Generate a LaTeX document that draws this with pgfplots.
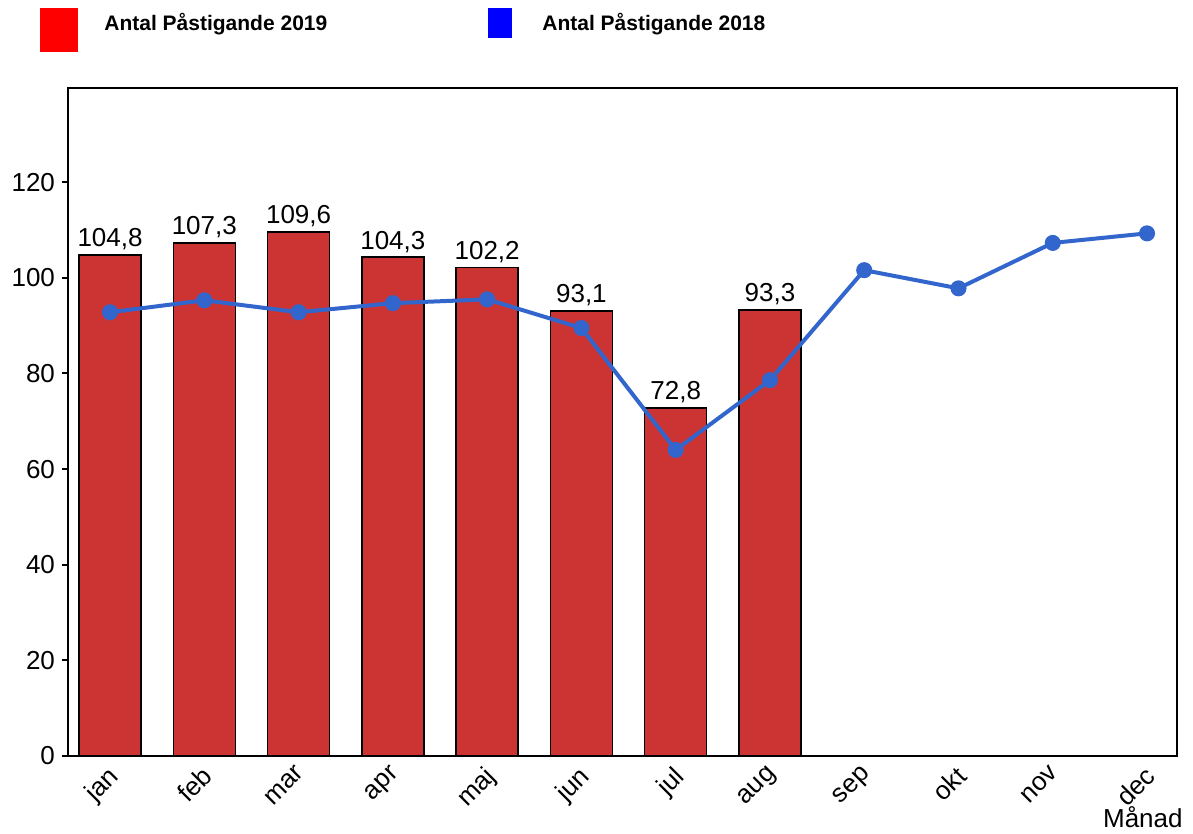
\documentclass[border=0pt]{standalone}
\usepackage{pgfplots}
\pgfplotsset{compat=1.18}
\usepackage{fontspec}
\setmainfont{Liberation Sans}
\definecolor{barred}{RGB}{204,51,51}
\definecolor{lineblue}{RGB}{51,102,204}
\begin{document}
\begin{tikzpicture}
\begin{axis}[
  scale only axis,
  width=554.5pt, height=334pt,
  xmin=-0.446, xmax=11.318,
  ymin=0, ymax=139.7,
  axis line style={line width=1pt},
  xtick={0,...,11},
  xticklabels={jan,feb,mar,apr,maj,jun,jul,aug,sep,okt,nov,dec},
  x tick label style={rotate=45, anchor=north east, font=\fontsize{13}{15}\selectfont, inner sep=1pt, yshift=1.5pt, xshift=-1pt},
  major x tick style={draw=none},
  ytick={0,20,...,120},
  y tick label style={font=\fontsize{13}{15}\selectfont},
  yticklabel style={/pgf/number format/assume math mode=true},
  tick align=outside,
  major tick length=3pt,
  ytick pos=left,
  xtick pos=bottom,
  tick style={black, line width=1pt},
  xlabel={Månad},
  xlabel style={at={(rel axis cs:1,0)}, anchor=north east, yshift=-24pt, xshift=4pt, inner sep=1pt, font=\fontsize{13}{15}\selectfont},
  clip=false,
]
\addplot[ybar, bar width=31pt, fill=barred, draw=black, line width=0.8pt,
  nodes near coords,
  every node near coord/.append style={font=\fontsize{13}{15}\selectfont, black, inner sep=2pt},
  nodes near coords style={/pgf/number format/.cd, use comma, fixed, fixed zerofill, precision=1, assume math mode=true}]
coordinates {(0,104.8) (1,107.3) (2,109.6) (3,104.3) (4,102.2) (5,93.1) (6,72.8) (7,93.3)};
\addplot[color=lineblue, line width=2pt, mark=*, mark size=3pt, mark options={fill=lineblue, draw=lineblue}]
coordinates {(0,92.8) (1,95.3) (2,92.8) (3,94.7) (4,95.5) (5,89.5) (6,64.0) (7,78.6) (8,101.6) (9,97.8) (10,107.3) (11,109.3)};
\end{axis}
% legend
\fill[red] ([xshift=-14pt,yshift=18pt]current axis.north west) rectangle ([xshift=5pt,yshift=40pt]current axis.north west);
\node[anchor=west, inner sep=0pt, font=\bfseries\fontsize{10.5}{12}\selectfont] at ([xshift=18pt,yshift=32pt]current axis.north west) {Antal Påstigande 2019};
\fill[blue] ([xshift=210pt,yshift=25pt]current axis.north west) rectangle ([xshift=222pt,yshift=40pt]current axis.north west);
\node[anchor=west, inner sep=0pt, font=\bfseries\fontsize{10.5}{12}\selectfont] at ([xshift=237pt,yshift=32pt]current axis.north west) {Antal Påstigande 2018};
\pgfresetboundingbox
\path ([xshift=-34pt,yshift=-39pt]current axis.south west) rectangle ([xshift=8pt,yshift=44pt]current axis.north east);
\end{tikzpicture}
\end{document}
